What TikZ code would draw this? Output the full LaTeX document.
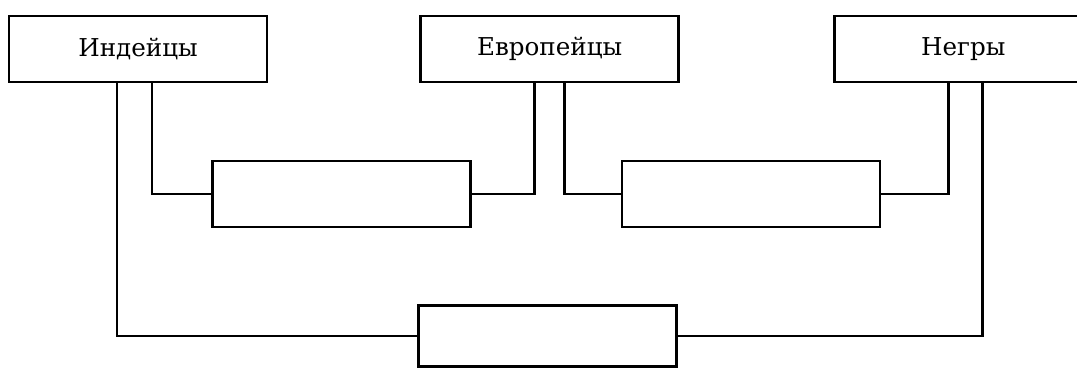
\documentclass[tikz,border=0pt]{standalone}
\usepackage{fontspec}
\setmainfont{DejaVu Serif}
\usetikzlibrary{positioning}
\tikzset{
  box/.style={
    rectangle, draw=black, line width=1.5pt, fill=white,
    minimum width=5.16cm, minimum height=1.32cm,
    inner sep=0pt, text centered, font=\fontsize{14}{16}\selectfont
  },
  link/.style={draw=black, line width=1.5pt}
}

\begin{document}
\begin{tikzpicture}
  \clip (0,0) rectangle (21.54,-7.36);
  \useasboundingbox (0,0) rectangle (21.54,-7.36);

  \node[box] (ind) at (2.76,-0.98) {Индейцы};
  \node[box, right=3.02cm of ind] (eur) {Европейцы};
  \node[box, right=3.06cm of eur] (neg) {Негры};

  \node[box] (midL) at (6.83,-3.88) {};
  \node[box] (midR) at (15.02,-3.88) {};
  \node[box, below=4.42cm of eur, xshift=-0.04cm,
        minimum height=1.22cm] (base) {};

  \draw[link] ([xshift=0.28cm]ind.south) |- (midL.west);
  \draw[link] ([xshift=-0.42cm]ind.south) |- (base.west);
  \draw[link] ([xshift=-0.3cm]eur.south) |- (midL.east);
  \draw[link] ([xshift=0.3cm]eur.south) |- (midR.west);
  \draw[link] ([xshift=-0.3cm]neg.south) |- (midR.east);
  \draw[link] ([xshift=0.38cm]neg.south) |- (base.east);
\end{tikzpicture}
\end{document}
